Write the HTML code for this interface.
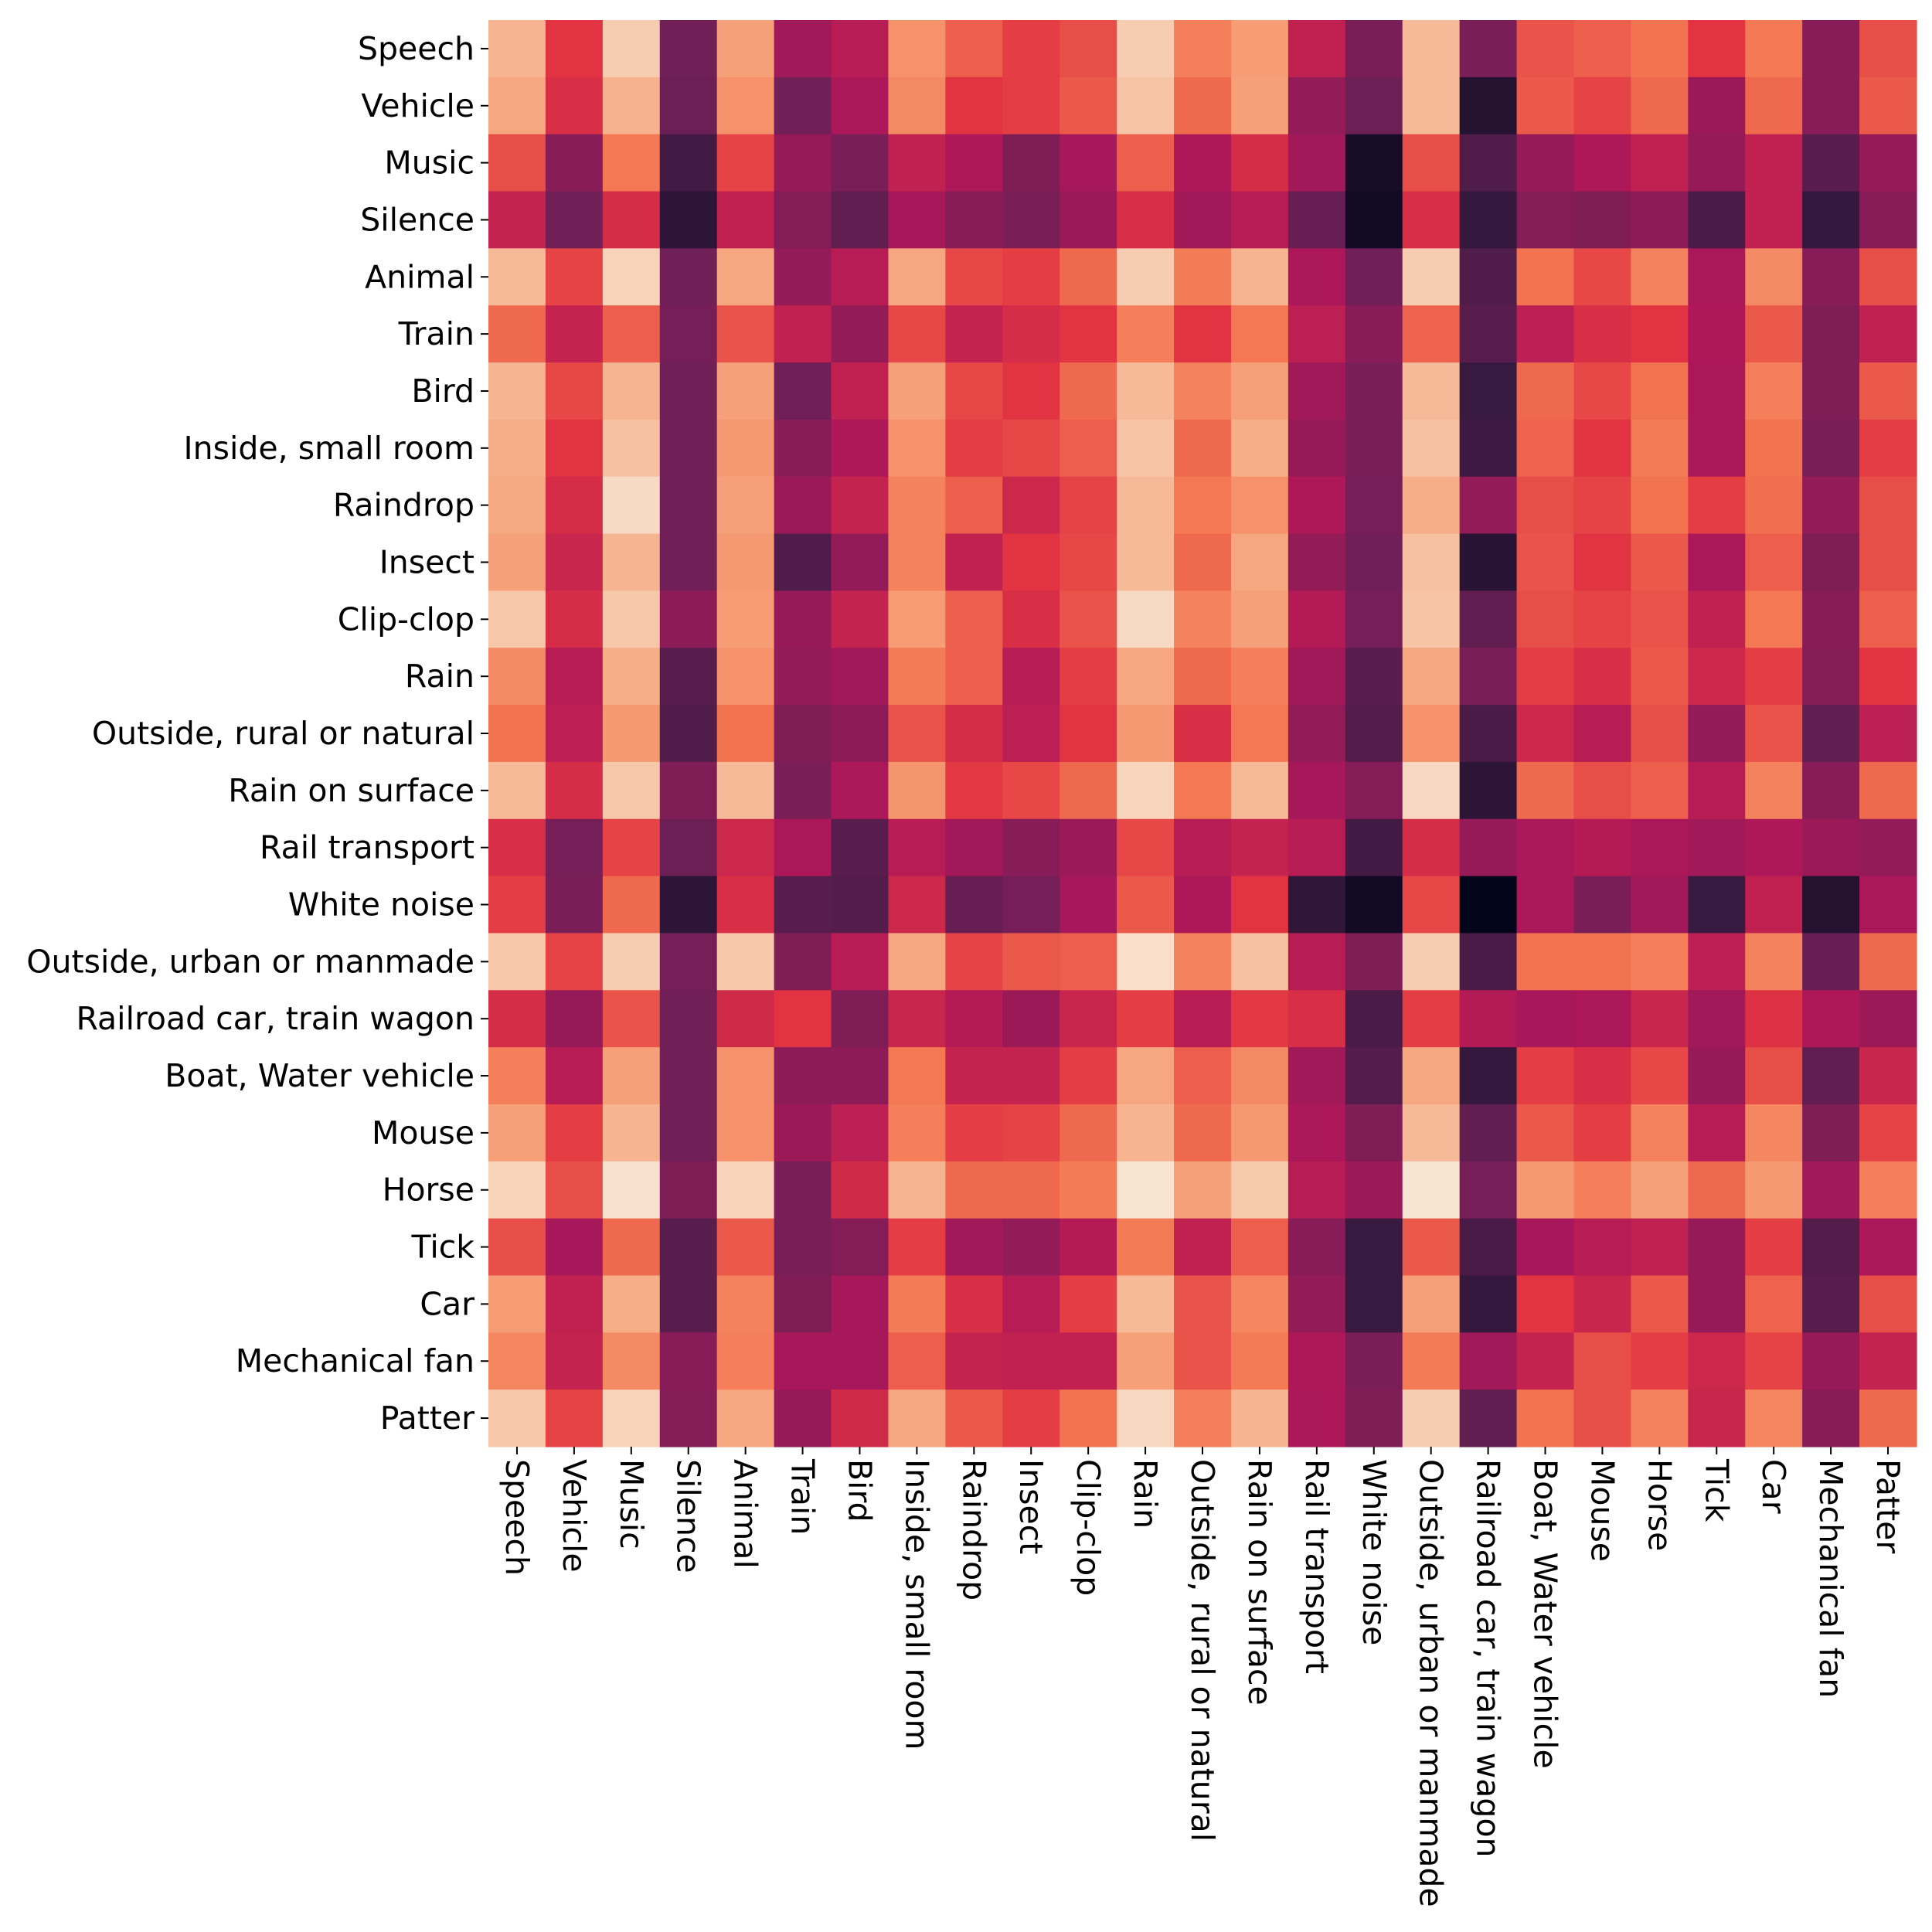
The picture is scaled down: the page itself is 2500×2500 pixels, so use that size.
<!DOCTYPE html>
<html><head><meta charset="utf-8">
<style>html,body{margin:0;padding:0;background:#fff}svg{display:block}</style>
</head><body>
<svg id="chart" width="2500" height="2500" viewBox="0 0 2500 2500" xmlns="http://www.w3.org/2000/svg" font-family="'DejaVu Sans','Liberation Sans',sans-serif"></svg>
<script>
const labels = ["Speech","Vehicle","Music","Silence","Animal","Train","Bird","Inside, small room","Raindrop","Insect","Clip-clop","Rain","Outside, rural or natural","Rain on surface","Rail transport","White noise","Outside, urban or manmade","Railroad car, train wagon","Boat, Water vehicle","Mouse","Horse","Tick","Car","Mechanical fan","Patter"];
const rowSpeech=[0.8,0.5,0.88,0.25,0.74,0.35,0.4,0.7,0.58,0.52,0.55,0.88,0.65,0.73,0.42,0.27,0.82,0.27,0.56,0.58,0.62,0.5,0.63,0.3,0.55];
const rowVehicle=[0.76,0.48,0.79,0.24,0.7,0.25,0.37,0.68,0.5,0.52,0.57,0.85,0.6,0.74,0.32,0.24,0.82,0.08,0.57,0.53,0.6,0.34,0.6,0.3,0.57];
const rowMusic=[0.55,0.3,0.63,0.15,0.53,0.33,0.27,0.42,0.38,0.28,0.36,0.58,0.38,0.47,0.35,0.05,0.55,0.18,0.33,0.38,0.42,0.33,0.42,0.2,0.33];
const rowSilence=[0.43,0.25,0.47,0.1,0.42,0.29,0.22,0.36,0.3,0.27,0.34,0.48,0.35,0.4,0.23,0.04,0.48,0.12,0.29,0.28,0.31,0.17,0.42,0.12,0.3];
const rowAnimal=[0.82,0.53,0.9,0.25,0.76,0.32,0.4,0.76,0.54,0.52,0.6,0.88,0.64,0.8,0.37,0.25,0.88,0.18,0.62,0.54,0.66,0.37,0.68,0.3,0.55];
const rowTrain=[0.6,0.43,0.58,0.26,0.56,0.42,0.32,0.54,0.43,0.47,0.5,0.65,0.5,0.63,0.41,0.3,0.59,0.2,0.41,0.48,0.5,0.38,0.57,0.28,0.42];
const rowBird=[0.8,0.54,0.8,0.25,0.74,0.25,0.42,0.74,0.54,0.5,0.6,0.82,0.66,0.74,0.35,0.27,0.82,0.13,0.6,0.54,0.62,0.37,0.65,0.28,0.57];
const rowInside=[0.78,0.5,0.84,0.25,0.72,0.3,0.38,0.7,0.52,0.54,0.58,0.85,0.6,0.78,0.33,0.27,0.84,0.14,0.59,0.5,0.64,0.37,0.62,0.27,0.52];
const rowRaindrop=[0.77,0.47,0.93,0.25,0.74,0.34,0.43,0.66,0.58,0.45,0.53,0.82,0.63,0.7,0.38,0.26,0.78,0.32,0.55,0.53,0.62,0.52,0.61,0.32,0.55];
const rowInsect=[0.74,0.44,0.8,0.25,0.72,0.18,0.32,0.66,0.42,0.5,0.54,0.82,0.6,0.76,0.32,0.25,0.84,0.09,0.56,0.5,0.57,0.37,0.58,0.28,0.55];
const rowClipclop=[0.86,0.47,0.86,0.31,0.73,0.33,0.43,0.73,0.58,0.48,0.56,0.93,0.66,0.74,0.39,0.26,0.85,0.22,0.55,0.53,0.56,0.42,0.63,0.3,0.58];
const rowRain=[0.68,0.4,0.78,0.2,0.7,0.32,0.35,0.64,0.58,0.4,0.52,0.76,0.6,0.65,0.35,0.2,0.76,0.27,0.52,0.48,0.57,0.45,0.52,0.29,0.5];
const rowRural=[0.62,0.41,0.72,0.18,0.62,0.28,0.31,0.56,0.47,0.41,0.5,0.72,0.48,0.63,0.32,0.19,0.7,0.17,0.45,0.4,0.55,0.32,0.56,0.22,0.41];
const rowRainSurface=[0.82,0.47,0.86,0.28,0.82,0.27,0.37,0.71,0.51,0.54,0.6,0.91,0.63,0.82,0.36,0.29,0.92,0.1,0.6,0.55,0.58,0.4,0.66,0.3,0.6];
const rowRail=[0.48,0.26,0.53,0.24,0.45,0.37,0.2,0.4,0.35,0.3,0.34,0.54,0.4,0.43,0.4,0.15,0.47,0.33,0.37,0.39,0.37,0.35,0.38,0.34,0.32];
const rowWhiteNoise=[0.52,0.27,0.6,0.1,0.48,0.2,0.19,0.45,0.23,0.26,0.36,0.57,0.38,0.5,0.11,0.04,0.54,0.0,0.37,0.27,0.35,0.13,0.42,0.08,0.37];
const rowUrban=[0.86,0.53,0.88,0.26,0.86,0.28,0.4,0.76,0.53,0.57,0.58,0.95,0.66,0.84,0.4,0.28,0.88,0.17,0.62,0.62,0.65,0.41,0.66,0.23,0.6];
const rowRailroadCar=[0.47,0.33,0.56,0.25,0.46,0.5,0.28,0.44,0.39,0.34,0.44,0.52,0.4,0.51,0.48,0.17,0.52,0.39,0.36,0.37,0.44,0.35,0.49,0.38,0.34];
const rowBoat=[0.65,0.4,0.74,0.25,0.7,0.31,0.31,0.63,0.43,0.43,0.52,0.76,0.58,0.68,0.35,0.19,0.76,0.12,0.52,0.48,0.54,0.33,0.55,0.22,0.44];
const rowMouse=[0.74,0.52,0.8,0.25,0.7,0.34,0.41,0.65,0.52,0.53,0.6,0.8,0.6,0.72,0.37,0.28,0.82,0.22,0.57,0.52,0.66,0.4,0.67,0.28,0.53];
const rowHorse=[0.9,0.55,0.96,0.28,0.9,0.27,0.46,0.8,0.6,0.6,0.64,0.97,0.74,0.87,0.4,0.34,0.97,0.26,0.72,0.65,0.74,0.6,0.72,0.35,0.65];
const rowTick=[0.55,0.36,0.6,0.2,0.57,0.27,0.29,0.52,0.35,0.32,0.39,0.64,0.42,0.58,0.3,0.13,0.57,0.17,0.36,0.4,0.42,0.33,0.52,0.19,0.37];
const rowCar=[0.73,0.42,0.78,0.2,0.66,0.28,0.36,0.64,0.48,0.4,0.52,0.82,0.56,0.67,0.32,0.13,0.74,0.12,0.5,0.44,0.57,0.33,0.59,0.2,0.55];
const rowFan=[0.67,0.43,0.68,0.3,0.65,0.36,0.36,0.58,0.43,0.42,0.42,0.74,0.56,0.64,0.38,0.27,0.64,0.35,0.43,0.55,0.52,0.45,0.53,0.33,0.43];
const rowPatter=[0.86,0.53,0.9,0.29,0.76,0.33,0.46,0.76,0.57,0.52,0.62,0.92,0.65,0.8,0.37,0.28,0.88,0.22,0.62,0.55,0.66,0.44,0.67,0.3,0.6];
const matrix=[rowSpeech,rowVehicle,rowMusic,rowSilence,rowAnimal,rowTrain,rowBird,rowInside,rowRaindrop,rowInsect,rowClipclop,rowRain,rowRural,rowRainSurface,rowRail,rowWhiteNoise,rowUrban,rowRailroadCar,rowBoat,rowMouse,rowHorse,rowTick,rowCar,rowFan,rowPatter];

const NS="http://www.w3.org/2000/svg";
const svg=document.getElementById('chart');
const L=632,T=26,R=2480,B=1872;
const n=labels.length, cw=(R-L)/n, ch=(B-T)/n;
const xPos=i=>L+i*cw, yPos=j=>T+j*ch;
const stops=[[0,[3,5,26]],[0.125,[54,25,62]],[0.25,[112,31,87]],[0.375,[173,23,89]],[0.5,[225,51,66]],[0.625,[243,118,81]],[0.75,[246,164,124]],[0.875,[247,204,176]],[1,[250,235,221]]];
function color(v){v=Math.max(0,Math.min(1,v));for(let k=1;k<stops.length;k++){if(v<=stops[k][0]){const a=stops[k-1],b=stops[k],t=(v-a[0])/(b[0]-a[0]);const c=a[1].map((x,i)=>Math.round(x+(b[1][i]-x)*t));return `rgb(${c})`;}}return 'rgb(250,235,221)';}
function el(tag,attrs){const e=document.createElementNS(NS,tag);for(const k in attrs)e.setAttribute(k,attrs[k]);return e;}
const cells=el('g',{});


svg.appendChild(cells);
matrix.forEach((row,j)=>row.forEach((v,i)=>{
  const r=el('rect',{x:xPos(i),y:yPos(j),width:cw+0.6,height:ch+0.6,fill:color(v)});
  
  
  cells.appendChild(r);
}));
const fs=41;
labels.forEach((lab,j)=>{
  const y=yPos(j)+ch/2;
  const tk=el('line',{x1:L-10,x2:L,y1:y,y2:y,stroke:'#000','stroke-width':2});
  
  
  svg.appendChild(tk);
  const t=el('text',{x:L-18,y:y,'text-anchor':'end','dominant-baseline':'central','font-size':fs,fill:'#000'});
  t.textContent=lab;
  
  
  svg.appendChild(t);
});
labels.forEach((lab,i)=>{
  const x=xPos(i)+cw/2;
  const tk=el('line',{x1:x,x2:x,y1:B,y2:B+10,stroke:'#000','stroke-width':2});
  
  
  svg.appendChild(tk);
  const t=el('text',{x:0,y:0,transform:`translate(${x},${B+16}) rotate(90)`,'text-anchor':'start','dominant-baseline':'central','font-size':fs,fill:'#000'});
  t.textContent=lab;
  
  
  svg.appendChild(t);
});
</script>
</body></html>
